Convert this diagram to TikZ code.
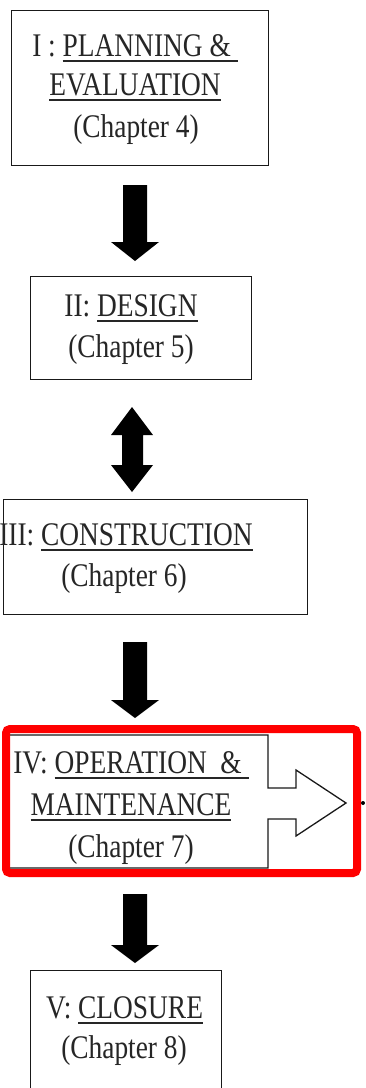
\documentclass[tikz,border=0pt]{standalone}
\usepackage{fontspec}
\setmainfont{Liberation Serif}
\newfontfamily\tnr[FakeStretch=0.83]{Liberation Serif}
\newcommand\myul[1]{\setbox0=\hbox{#1}\rlap{\rule[-6.2pt]{\wd0}{2pt}}\box0}
\begin{document}
\begin{tikzpicture}[x=1pt,y=-1pt,
  txt/.style={anchor=base, inner sep=0pt, font=\tnr\fontsize{33}{40}\selectfont, text=black!85},
  box/.style={draw=black!90, line width=1.3pt, inner sep=0pt, anchor=north west},
  blk/.style={fill=black}]
\clip (0,0) rectangle (365,1088);
\fill[white] (0,0) rectangle (365,1088);
% boxes
\node[box, minimum width=257pt, minimum height=155pt] (b1) at (11,10) {};
\node[box, minimum width=221pt, minimum height=103pt] (b2) at (30,276) {};
\node[box, minimum width=304pt, minimum height=115pt] (b3) at (3,499) {};
\node[box, minimum width=191pt, minimum height=130pt] (b5) at (30,970) {};
\coordinate (b4) at (9,735);
\draw[draw=black!90, line width=1.3pt] (b4) -- (268,735) -- (268,788) -- (296,788) -- (296,770) -- (346,803) -- (296,836) -- (296,819) -- (268,819) -- (268,868) -- (9,868) -- cycle;
% block arrows
\fill[blk] (123,185) -- (147,185) -- (147,242) -- (159,242) -- (135,261) -- (111,242) -- (123,242) -- cycle;
\fill[blk] (132,407) -- (153,435) -- (143,435) -- (143,465) -- (153,465) -- (132,492) -- (111,465) -- (122,465) -- (122,435) -- (111,435) -- cycle;
\fill[blk] (123,642) -- (147,642) -- (147,700) -- (159,700) -- (135,718) -- (111,700) -- (123,700) -- cycle;
\fill[blk] (123,894) -- (147,894) -- (147,945) -- (159,945) -- (135,963) -- (111,945) -- (123,945) -- cycle;
% texts
\node[txt] (t1a) at (135,56) {I : \myul{PLANNING \& }};
\node[txt] (t1b) at (135,95) {\myul{EVALUATION}};
\node[txt] (t1c) at (136,137) {(Chapter 4)};
\node[txt] (t2a) at (131,316) {II: \myul{DESIGN}};
\node[txt] (t2b) at (131,357) {(Chapter 5)};
\node[txt] (t3a) at (126,545) {III: \myul{CONSTRUCTION}};
\node[txt] (t3b) at (124,586) {(Chapter 6)};
\node[txt] (t4a) at (131,773) {IV: \myul{OPERATION\ \ \& }};
\node[txt] (t4b) at (131,815) {\myul{MAINTENANCE}};
\node[txt] (t4c) at (131,857) {(Chapter 7)};
\node[txt] (t5a) at (124.5,1018) {V: \myul{CLOSURE}};
\node[txt] (t5b) at (124,1058) {(Chapter 8)};
% highlight
\draw[red, line width=8pt, rounded corners=4pt] (6,729) rectangle (357,873);
\fill[black] (363,803) circle (2);
\end{tikzpicture}
\end{document}
